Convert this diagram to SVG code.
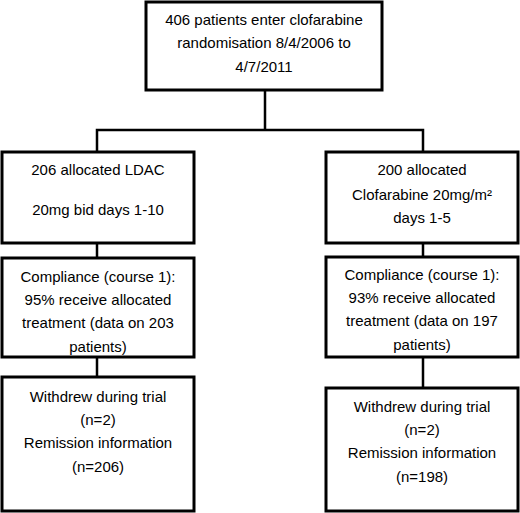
<svg xmlns="http://www.w3.org/2000/svg" width="520" height="513" viewBox="0 0 520 513">
<style>
.box{fill:#fff;stroke:#000;stroke-width:3}
.conn{fill:none;stroke:#000;stroke-width:2.5}
text{font-family:"Liberation Sans",Arial,sans-serif;font-size:15px;fill:#000;text-anchor:middle}
</style>
<rect width="520" height="513" fill="#fff"/>
<g id="connectors">
<path class="conn" d="M265 90 V130 M97 152 V130 H423 V152"/>
<path class="conn" d="M97 243 V258 M97 357 V377"/>
<path class="conn" d="M423 243 V257 M423 357 V388"/>
</g>
<g id="n-top">
<rect class="box" x="146" y="2" width="236" height="88"/>
<text x="264" y="25">406 patients enter clofarabine</text>
<text x="264" y="48">randomisation 8/4/2006 to</text>
<text x="264" y="72">4/7/2011</text>
</g>
<g id="n-ldac">
<rect class="box" x="2" y="152" width="192" height="91"/>
<text x="98" y="175">206 allocated LDAC</text>
<text x="98" y="215">20mg bid days 1-10</text>
</g>
<g id="n-clof">
<rect class="box" x="326" y="152" width="192" height="91"/>
<text x="422" y="175">200 allocated</text>
<text x="422" y="200">Clofarabine 20mg/m²</text>
<text x="422" y="223">days 1-5</text>
</g>
<g id="n-comp-left">
<rect class="box" x="2" y="258" width="192" height="99"/>
<text x="98" y="282">Compliance (course 1):</text>
<text x="98" y="305">95% receive allocated</text>
<text x="98" y="328">treatment (data on 203</text>
<text x="98" y="352">patients)</text>
</g>
<g id="n-comp-right">
<rect class="box" x="326" y="257" width="192" height="100"/>
<text x="422" y="280">Compliance (course 1):</text>
<text x="422" y="303">93% receive allocated</text>
<text x="422" y="326">treatment (data on 197</text>
<text x="422" y="350">patients)</text>
</g>
<g id="n-rem-left">
<rect class="box" x="2" y="377" width="192" height="134"/>
<text x="98" y="402">Withdrew during trial</text>
<text x="98" y="425">(n=2)</text>
<text x="98" y="448">Remission information</text>
<text x="98" y="472">(n=206)</text>
</g>
<g id="n-rem-right">
<rect class="box" x="326" y="388" width="192" height="123"/>
<text x="422" y="412">Withdrew during trial</text>
<text x="422" y="435">(n=2)</text>
<text x="422" y="458">Remission information</text>
<text x="422" y="482">(n=198)</text>
</g>
</svg>
